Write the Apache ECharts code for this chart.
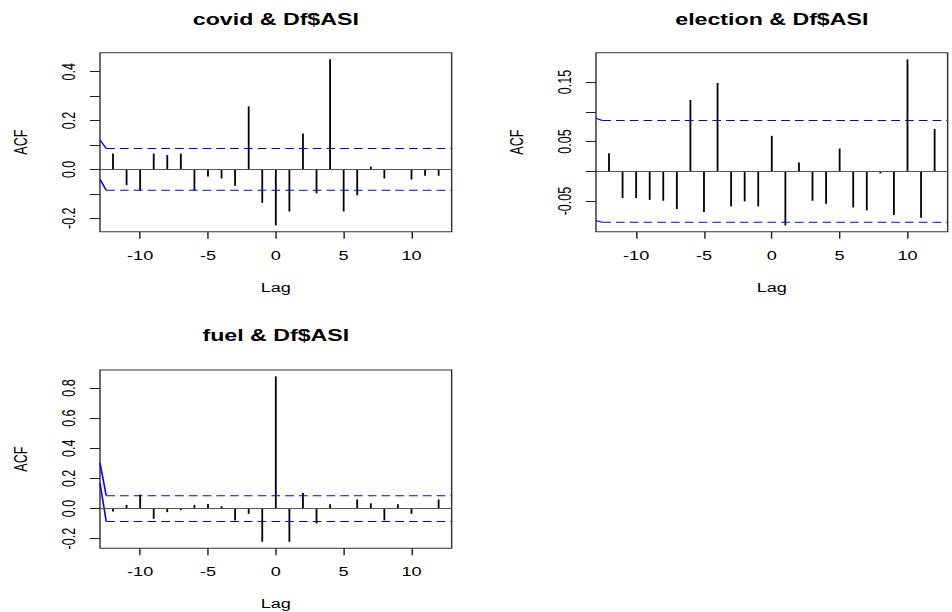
<!DOCTYPE html>
<html>
<head>
<meta charset="utf-8">
<script src="https://cdn.jsdelivr.net/npm/echarts@6/dist/echarts.min.js"></script>
<style>
  html, body { margin: 0; padding: 0; background: #fff; overflow: hidden; }
  #wrap { width: 952px; height: 612px; overflow: hidden; }
  /* the panels are laid out on a narrower canvas and widened horizontally */
  #chart { width: 657px; height: 612px; transform: scaleX(1.449); transform-origin: 0 0; }
</style>
</head>
<body>
<div id="wrap"><div id="chart"></div></div>
<script>
// Cross-correlation of each factor with Df$ASI, lags -12 .. 12
const lags = [-12, -11, -10, -9, -8, -7, -6, -5, -4, -3, -2, -1, 0, 1, 2, 3, 4, 5, 6, 7, 8, 9, 10, 11, 12];

const covidAcf = [0.065, -0.064, -0.086, 0.065, 0.059, 0.065, -0.086, -0.029, -0.037, -0.067, 0.258, -0.137,
                  -0.229, -0.172, 0.147, -0.098, 0.451, -0.172, -0.106, 0.012, -0.037, 0.002, -0.041, -0.026, -0.026];
const electionAcf = [0.0305, -0.045, -0.045, -0.048, -0.0495, -0.0635, 0.120, -0.0685, 0.1485, -0.059, -0.0506, -0.059,
                     0.0596, -0.0909, 0.0148, -0.0495, -0.0545, 0.0383, -0.0607, -0.0657, -0.0036, -0.0735, 0.188, -0.078, 0.0713];
const fuelAcf = [-0.020, 0.024, 0.093, -0.068, -0.024, -0.011, 0.024, 0.031, 0.015, -0.079, -0.035, -0.221,
                 0.878, -0.221, 0.104, -0.099, 0.029, 0.003, 0.060, 0.035, -0.079, 0.029, -0.035, 0.002, 0.060];

// confidence bounds: level, and where each bound line enters from the left edge
const ciLevel = [0.0855, 0.0855, 0.0855];
const ciUpperStart = [0.121, 0.089, 0.303];
const ciLowerStart = [-0.040, -0.0825, 0.170];

// axis ticks and labels
const lagLabels = ['-10', '-5', '0', '5', '10'];
const covidTicks = [-0.2, -0.1, 0.0, 0.1, 0.2, 0.3, 0.4];
const covidLabels = ['-0.2', '0.0', '0.2', '0.4'];
const electionTicks = [-0.05, 0.0, 0.05, 0.10, 0.15];
const electionLabels = ['-0.05', '0.05', '0.15'];
const fuelTicks = [-0.2, 0.0, 0.2, 0.4, 0.6, 0.8];
const fuelLabels = ['-0.2', '0.0', '0.2', '0.4', '0.6', '0.8'];

const titles = ['covid & Df$ASI', 'election & Df$ASI', 'fuel & Df$ASI'];

const FONT = 'Liberation Sans, Arial, Helvetica, sans-serif';
const LAG_MIN = -12.96, LAG_MAX = 12.96, CI_BREAK = -12.5;

const panels = [
  { acf: covidAcf, ticks: covidTicks, labels: covidLabels, yMin: -0.255, yMax: 0.478,
    grid: { left: 69, top: 52.7, width: 242.7, height: 179 }, titleTop: 11 },
  { acf: electionAcf, ticks: electionTicks, labels: electionLabels, yMin: -0.1015, yMax: 0.1993,
    grid: { left: 411.3, top: 52.7, width: 242.7, height: 179 }, titleTop: 11 },
  { acf: fuelAcf, ticks: fuelTicks, labels: fuelLabels, yMin: -0.264, yMax: 0.92,
    grid: { left: 69, top: 370, width: 242.7, height: 178.3 }, titleTop: 327 }
];

function labelFor(list) {
  return function (v) {
    const hit = list.find(s => Math.abs(Number(s) - v) < 1e-9);
    return hit === undefined ? '' : hit;
  };
}

const grid = [], xAxis = [], yAxis = [], series = [], title = [];

panels.forEach((p, i) => {
  grid.push(Object.assign({ show: true, borderColor: '#333', borderWidth: 1, backgroundColor: 'transparent' }, p.grid));

  title.push({
    text: titles[i], left: p.grid.left + p.grid.width / 2, top: p.titleTop,
    textAlign: 'center', padding: 0,
    textStyle: { fontFamily: FONT, fontSize: 16, fontWeight: 'bold', color: '#000' }
  });

  xAxis.push({
    type: 'value', gridIndex: i, min: LAG_MIN, max: LAG_MAX, position: 'bottom',
    name: 'Lag', nameLocation: 'middle', nameGap: 49,
    nameTextStyle: { fontFamily: FONT, fontSize: 12.5, color: '#000' },
    axisLine: { show: false, onZero: false },
    splitLine: { show: false },
    axisTick: { show: true, length: 7, lineStyle: { color: '#222', width: 1 }, customValues: lagLabels.map(Number) },
    axisLabel: { show: true, margin: 17, fontFamily: FONT, fontSize: 12.5, color: '#000',
                 customValues: lagLabels.map(Number), formatter: labelFor(lagLabels) }
  });

  yAxis.push({
    type: 'value', gridIndex: i, min: p.yMin, max: p.yMax, position: 'left',
    name: 'ACF', nameLocation: 'middle', nameGap: 48,
    nameTextStyle: { fontFamily: FONT, fontSize: 12.5, color: '#000' },
    axisLine: { show: false, onZero: false },
    splitLine: { show: false },
    axisTick: { show: true, length: 7, lineStyle: { color: '#222', width: 1 }, customValues: p.ticks },
    axisLabel: { show: true, rotate: 90, margin: 15, fontFamily: FONT, fontSize: 12.5, color: '#000',
                 customValues: p.labels.map(Number), formatter: labelFor(p.labels) }
  });

  // correlation spikes
  series.push({
    type: 'bar', xAxisIndex: i, yAxisIndex: i, barWidth: 1.25,
    data: lags.map((l, k) => [l, p.acf[k]]),
    itemStyle: { color: '#000' },
    markLine: {
      silent: true, symbol: ['none', 'none'], animation: false,
      label: { show: false },
      lineStyle: { color: '#555', width: 1, type: 'solid' },
      data: [{ yAxis: 0 }]
    }
  });

  // confidence bounds
  const ci = ciLevel[i];
  [[ciUpperStart[i], ci], [ciLowerStart[i], -ci]].forEach(([start, level]) => {
    series.push({
      type: 'line', xAxisIndex: i, yAxisIndex: i, symbol: 'none', clip: true,
      data: [[LAG_MIN, start], [CI_BREAK, level]],
      lineStyle: { color: '#0000ff', width: 1.1, type: 'solid' }
    });
    series.push({
      type: 'line', xAxisIndex: i, yAxisIndex: i, symbol: 'none', clip: true,
      data: [[CI_BREAK, level], [LAG_MAX, level]],
      lineStyle: { color: '#0000ff', width: 1, type: [6, 3.5] }
    });
  });
});

const chart = echarts.init(document.getElementById('chart'), null, { renderer: 'svg' });
chart.setOption({
  animation: false,
  backgroundColor: '#fff',
  title, grid, xAxis, yAxis, series
});
</script>
</body>
</html>
